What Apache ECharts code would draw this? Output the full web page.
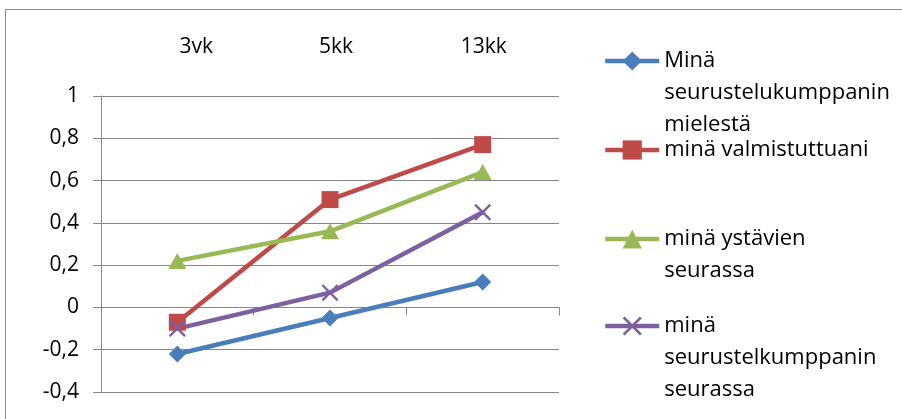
<!DOCTYPE html>
<html>
<head>
<meta charset="utf-8">
<script src="https://cdn.jsdelivr.net/npm/echarts@6/dist/echarts.min.js"></script>
<style>
  html, body { margin: 0; padding: 0; background: #fff; }
  #chart { width: 902px; height: 419px; }
</style>
</head>
<body>
<div id="chart"></div>
<script>
// data
const categories = ['3vk', '5kk', '13kk'];
const seriesNames = [
  'Minä\nseurustelukumppanin\nmielestä',
  'minä valmistuttuani',
  'minä ystävien\nseurassa',
  'minä\nseurustelkumppanin\nseurassa'
];
const partnerOpinion = [-0.22, -0.05, 0.12];
const afterGraduation = [-0.07, 0.51, 0.77];
const withFriends = [0.22, 0.36, 0.64];
const withPartner = [-0.10, 0.07, 0.45];
const yMin = -0.4, yMax = 1, yStep = 0.2;

const colors = ['#4A7EBB', '#BE4B48', '#98B954', '#7D60A0'];
const FONT = 'Open Sans';
const FS = 21;
const crossPath = 'path://M0,1L1,0L10,9L9,10Z M9,0L10,1L1,10L0,9Z';

const chart = echarts.init(document.getElementById('chart'));

// one legend per item so each block can sit at its own height;
// leading blank lines keep the icon level with the first text line
function legendFor(i, centerY) {
  const lines = seriesNames[i].split('\n').length;
  return {
    show: true,
    left: 603,
    top: centerY - 16 * (2 * lines - 1),
    padding: 0,
    itemWidth: 54,
    itemHeight: 24,
    selectedMode: false,
    data: [seriesNames[i]],
    formatter: name => '\n'.repeat(lines - 1) + name,
    lineStyle: { width: 4.5 },
    textStyle: { fontFamily: FONT, fontSize: 22, color: '#000', lineHeight: 32 }
  };
}

function lineSeries(i, values, symbol, size) {
  return {
    name: seriesNames[i],
    type: 'line',
    data: values,
    symbol: symbol,
    symbolSize: size,
    showAllSymbol: true,
    color: colors[i],
    lineStyle: { width: 4.5, color: colors[i] },
    itemStyle: { color: colors[i] },
    animation: false
  };
}

const option = {
  backgroundColor: '#fff',
  animation: false,
  graphic: [{
    type: 'rect',
    shape: { x: 5.5, y: 9.5, width: 1000, height: 600 },
    style: { fill: 'none', stroke: '#888', lineWidth: 1 },
    silent: true,
    z: -10
  }],
  legend: [legendFor(0, 61), legendFor(1, 150), legendFor(2, 239), legendFor(3, 326)],
  grid: { left: 101, right: 343, top: 96, bottom: 27, containLabel: false },
  xAxis: [{
    type: 'category',
    data: categories,
    position: 'top',
    boundaryGap: true,
    axisLine: { show: false, onZero: false },
    axisTick: { show: false },
    axisLabel: {
      margin: 38,
      fontFamily: FONT,
      fontSize: FS,
      color: '#000',
      formatter: (v, idx) => '{c' + idx + '|' + v + '}',
      rich: {
        c0: { fontFamily: FONT, fontSize: FS, padding: [0, 0, 0, 38] },
        c1: { fontFamily: FONT, fontSize: FS, padding: [0, 0, 0, 12] },
        c2: { fontFamily: FONT, fontSize: FS, padding: [0, 0, 0, 2] }
      }
    },
    splitLine: { show: false }
  }, {
    // category axis crossing at value 0, ticks only
    type: 'category',
    data: categories,
    position: 'bottom',
    boundaryGap: true,
    axisLine: { show: true, onZero: true, onZeroAxisIndex: 0, lineStyle: { color: '#878787', width: 1 } },
    axisTick: { show: true, length: 8, lineStyle: { color: '#878787' } },
    axisLabel: { show: false },
    splitLine: { show: false }
  }],
  yAxis: {
    type: 'value',
    min: yMin,
    max: yMax,
    interval: yStep,
    axisLine: { show: true, lineStyle: { color: '#878787', width: 1 } },
    axisTick: { show: true, length: 8, lineStyle: { color: '#878787' } },
    axisLabel: {
      margin: 22,
      fontFamily: FONT,
      fontSize: FS,
      color: '#000',
      formatter: v => String(Math.round(v * 10) / 10).replace('.', ',')
    },
    splitLine: { show: true, lineStyle: { color: '#878787', width: 1 } }
  },
  series: [
    lineSeries(0, partnerOpinion, 'diamond', 17),
    lineSeries(1, afterGraduation, 'rect', 17),
    lineSeries(2, withFriends, 'triangle', [18, 16]),
    lineSeries(3, withPartner, crossPath, 17)
  ]
};

chart.setOption(option);
</script>
</body>
</html>
